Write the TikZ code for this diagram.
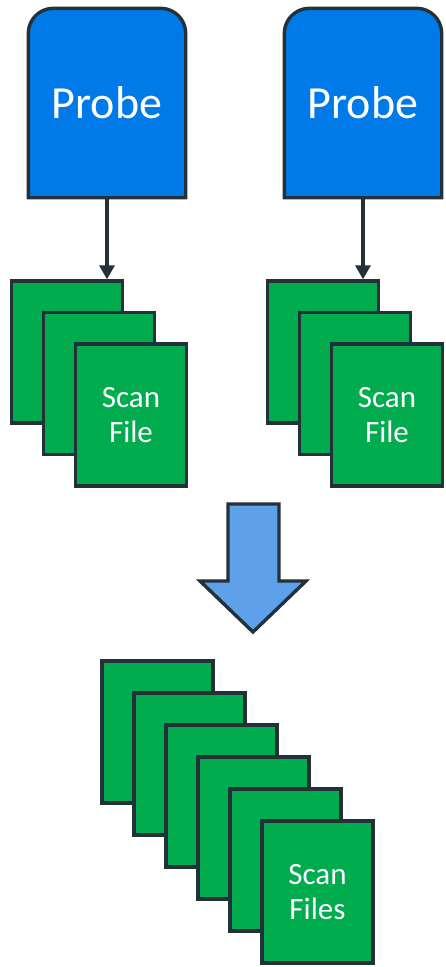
\documentclass[tikz,border=0pt]{standalone}
\usepackage{fontspec}
\setmainfont{Carlito}
\usetikzlibrary{arrows.meta,backgrounds}
\definecolor{probeblue}{RGB}{0,122,232}
\definecolor{mergeblue}{RGB}{95,160,235}
\definecolor{filegreen}{RGB}{0,172,78}
\definecolor{edge}{RGB}{36,48,58}
\tikzset{
  probe/.style={minimum width=157pt, minimum height=189pt, inner sep=0pt,
    text=white, font=\fontsize{46}{50}\selectfont},
  scanfile/.style={draw=edge, fill=filegreen, line width=3.4pt,
    minimum width=111pt, minimum height=142pt, inner sep=0pt, text=white,
    align=center, font=\fontsize{31}{35}\selectfont},
  link/.style={draw=edge, line width=3.4pt,
    -{Triangle[width=15pt,length=14pt]}},
}

\begin{document}
\begin{tikzpicture}[x=1pt, y=-1pt, line join=miter]
    \useasboundingbox (0,0) rectangle (446,967);
    % probes
    \node[probe] (p1) at (107,103) {Probe};
    \node[probe] (p2) at (363,103) {Probe};
    \begin{scope}[on background layer]
    \foreach \p in {p1,p2}
      \draw[draw=edge, fill=probeblue, line width=3.4pt]
        (\p.south west) -- ([yshift=-25pt]\p.north west)
        arc[start angle=180, end angle=90, radius=25pt]
        -- ([xshift=-25pt]\p.north east)
        arc[start angle=90, end angle=0, radius=25pt]
        -- (\p.south east) -- cycle;
    \end{scope}
    % scan files of each probe
    \foreach \i/\t in {0/,1/,2/{Scan\\File}} {
      \node[scanfile] (a\i) at (67+32*\i,352+31.5*\i) {\t};
      \node[scanfile] (b\i) at (323+32*\i,352+31.5*\i) {\t};
    }
    \draw[link] (p1.south) -- (p1.south |- a0.north);
    \draw[link] (p2.south) -- (p2.south |- b0.north);
    % merge arrow
    \draw[draw=edge, fill=mergeblue, line width=3.4pt]
      (228,504) -- (279,504) -- (279,581) -- (306,581) -- (253,632)
      -- (200,581) -- (228,581) -- cycle;
    % merged scan files
    \foreach \i/\t in {0/,1/,2/,3/,4/,5/{Scan\\Files}}
      \node[scanfile] (m\i) at (157.5+32*\i,732+32*\i) {\t};
  \end{tikzpicture}
\end{document}
